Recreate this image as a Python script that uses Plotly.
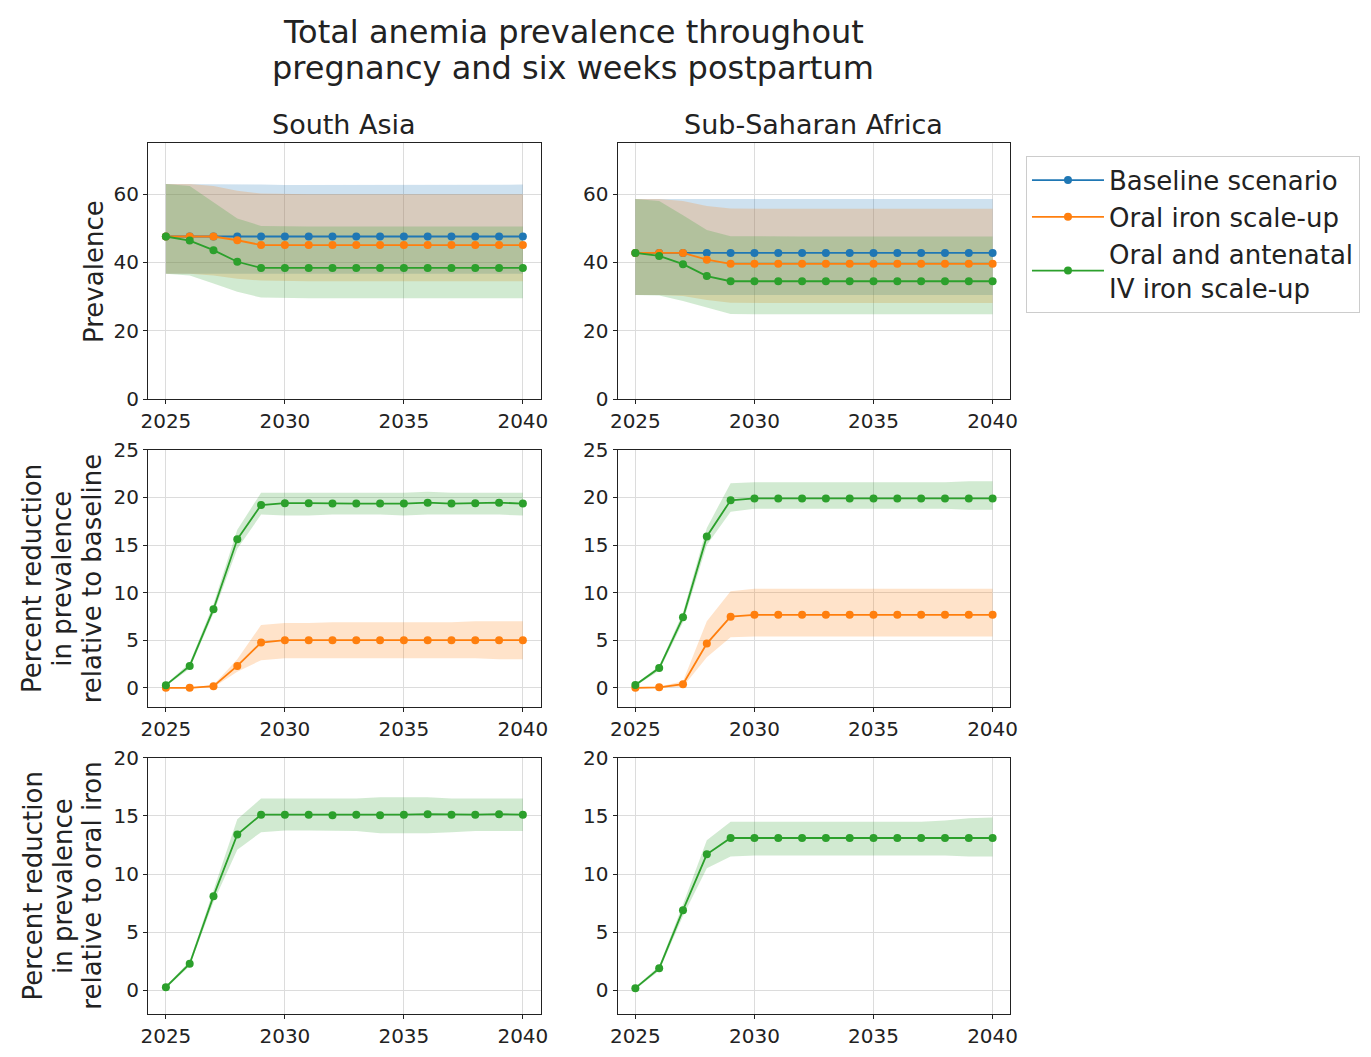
import plotly.graph_objects as go
from plotly.subplots import make_subplots

years = list(range(2025, 2041))

# ---- Row 1: prevalence (South Asia)
sa_base    = [47.6, 47.6, 47.6, 47.6, 47.6, 47.6, 47.6, 47.6, 47.6, 47.6, 47.6, 47.6, 47.6, 47.6, 47.6, 47.6]
sa_base_lo = [36.7, 36.7, 36.7, 36.7, 36.7, 36.7, 36.7, 36.7, 36.7, 36.7, 36.7, 36.7, 36.7, 36.7, 36.7, 36.7]
sa_base_hi = [63.0, 63.0, 63.0, 62.9, 62.8, 62.7, 62.7, 62.7, 62.7, 62.7, 62.7, 62.7, 62.7, 62.8, 62.8, 62.8]
sa_oral    = [47.6, 47.6, 47.6, 46.5, 45.1, 45.1, 45.1, 45.1, 45.1, 45.1, 45.1, 45.1, 45.1, 45.1, 45.1, 45.1]
sa_oral_lo = [36.7, 36.7, 36.2, 35.2, 34.7, 34.5, 34.5, 34.5, 34.5, 34.5, 34.5, 34.5, 34.5, 34.5, 34.5, 34.5]
sa_oral_hi = [63.0, 63.0, 62.4, 61.0, 60.2, 60.0, 60.0, 60.0, 60.0, 60.0, 60.0, 60.0, 60.0, 60.0, 60.0, 60.0]
sa_iv      = [47.6, 46.4, 43.6, 40.2, 38.4, 38.4, 38.4, 38.4, 38.4, 38.4, 38.4, 38.4, 38.4, 38.4, 38.4, 38.4]
sa_iv_lo   = [36.7, 36.2, 33.8, 31.4, 29.7, 29.5, 29.5, 29.5, 29.5, 29.5, 29.5, 29.5, 29.5, 29.5, 29.5, 29.5]
sa_iv_hi   = [63.0, 62.4, 57.6, 52.9, 50.7, 50.5, 50.5, 50.5, 50.5, 50.5, 50.5, 50.5, 50.5, 50.5, 50.5, 50.5]

# ---- Row 1: prevalence (Sub-Saharan Africa)
ssa_base    = [42.8, 42.8, 42.8, 42.8, 42.8, 42.8, 42.8, 42.8, 42.8, 42.8, 42.8, 42.8, 42.8, 42.8, 42.8, 42.8]
ssa_base_lo = [30.5, 30.5, 30.5, 30.5, 30.5, 30.5, 30.5, 30.5, 30.5, 30.5, 30.5, 30.5, 30.5, 30.5, 30.5, 30.5]
ssa_base_hi = [58.6, 58.6, 58.6, 58.6, 58.6, 58.6, 58.6, 58.6, 58.6, 58.6, 58.6, 58.6, 58.6, 58.6, 58.6, 58.6]
ssa_oral    = [42.8, 42.8, 42.8, 40.8, 39.6, 39.6, 39.6, 39.6, 39.6, 39.6, 39.6, 39.6, 39.6, 39.6, 39.6, 39.6]
ssa_oral_lo = [30.5, 30.5, 30.2, 29.0, 28.2, 28.1, 28.1, 28.1, 28.1, 28.1, 28.1, 28.1, 28.1, 28.1, 28.1, 28.1]
ssa_oral_hi = [58.6, 58.6, 58.0, 56.5, 55.8, 55.7, 55.7, 55.7, 55.7, 55.7, 55.7, 55.7, 55.7, 55.7, 55.7, 55.7]
ssa_iv      = [42.8, 41.9, 39.5, 36.0, 34.5, 34.5, 34.5, 34.5, 34.5, 34.5, 34.5, 34.5, 34.5, 34.5, 34.5, 34.5]
ssa_iv_lo   = [30.5, 30.3, 28.7, 26.7, 24.9, 24.8, 24.8, 24.8, 24.8, 24.8, 24.8, 24.8, 24.8, 24.8, 24.8, 24.8]
ssa_iv_hi   = [58.6, 58.0, 53.8, 49.5, 47.7, 47.6, 47.6, 47.6, 47.6, 47.6, 47.6, 47.6, 47.6, 47.6, 47.6, 47.6]

# ---- Row 2: percent reduction relative to baseline
sa_red_oral    = [0.0, 0.0, 0.17, 2.3, 4.75, 5.0, 5.0, 5.0, 5.0, 5.0, 5.0, 5.0, 5.0, 5.0, 5.0, 5.0]
sa_red_oral_lo = [0.0, 0.0, 0.05, 1.7, 2.9, 3.1, 3.1, 3.1, 3.1, 3.1, 3.1, 3.1, 3.1, 3.1, 3.0, 3.0]
sa_red_oral_hi = [0.0, 0.0, 0.3, 3.0, 6.6, 6.8, 6.8, 6.9, 6.9, 6.9, 6.9, 6.9, 6.9, 7.0, 7.0, 7.0]
sa_red_iv      = [0.28, 2.3, 8.26, 15.6, 19.2, 19.4, 19.4, 19.35, 19.35, 19.35, 19.35, 19.45, 19.35, 19.4, 19.45, 19.35]
sa_red_iv_lo   = [0.2, 2.0, 7.8, 14.6, 18.2, 18.1, 18.1, 18.2, 18.2, 18.2, 18.1, 18.2, 18.2, 18.2, 18.2, 18.1]
sa_red_iv_hi   = [0.4, 2.6, 8.8, 16.6, 20.5, 20.5, 20.5, 20.5, 20.5, 20.5, 20.5, 20.6, 20.5, 20.5, 20.5, 20.5]

ssa_red_oral    = [0.0, 0.05, 0.38, 4.65, 7.47, 7.67, 7.67, 7.67, 7.67, 7.67, 7.67, 7.67, 7.67, 7.67, 7.67, 7.67]
ssa_red_oral_lo = [0.0, 0.0, 0.1, 3.2, 5.3, 5.4, 5.4, 5.4, 5.4, 5.4, 5.4, 5.4, 5.4, 5.4, 5.4, 5.4]
ssa_red_oral_hi = [0.0, 0.1, 0.7, 7.0, 10.15, 10.4, 10.4, 10.4, 10.4, 10.4, 10.4, 10.4, 10.4, 10.4, 10.4, 10.4]
ssa_red_iv      = [0.3, 2.07, 7.4, 15.9, 19.7, 19.9, 19.9, 19.9, 19.9, 19.9, 19.9, 19.9, 19.9, 19.9, 19.9, 19.9]
ssa_red_iv_lo   = [0.2, 1.8, 6.9, 15.0, 18.5, 18.8, 18.8, 18.8, 18.8, 18.8, 18.8, 18.8, 18.8, 18.8, 18.7, 18.7]
ssa_red_iv_hi   = [0.4, 2.3, 7.9, 16.8, 21.5, 21.6, 21.6, 21.6, 21.6, 21.6, 21.6, 21.6, 21.6, 21.6, 21.7, 21.7]

# ---- Row 3: percent reduction relative to oral iron
sa_rel_iv    = [0.28, 2.3, 8.1, 13.4, 15.1, 15.1, 15.1, 15.05, 15.1, 15.05, 15.1, 15.15, 15.1, 15.1, 15.15, 15.1]
sa_rel_iv_lo = [0.2, 2.1, 7.6, 12.1, 13.6, 13.75, 13.75, 13.7, 13.7, 13.5, 13.5, 13.5, 13.6, 13.7, 13.7, 13.7]
sa_rel_iv_hi = [0.4, 2.5, 8.6, 14.7, 16.5, 16.5, 16.5, 16.5, 16.5, 16.6, 16.6, 16.6, 16.5, 16.5, 16.5, 16.5]

ssa_rel_iv    = [0.2, 1.9, 6.9, 11.7, 13.1, 13.1, 13.1, 13.1, 13.1, 13.1, 13.1, 13.1, 13.1, 13.1, 13.1, 13.1]
ssa_rel_iv_lo = [0.1, 1.7, 6.4, 10.5, 11.5, 11.6, 11.6, 11.6, 11.6, 11.6, 11.6, 11.6, 11.6, 11.6, 11.5, 11.5]
ssa_rel_iv_hi = [0.3, 2.1, 7.4, 12.9, 14.5, 14.5, 14.5, 14.5, 14.5, 14.5, 14.5, 14.5, 14.5, 14.6, 14.8, 14.85]

series_names = ["Baseline scenario", "Oral iron scale-up", "Oral and antenatal<br>IV iron scale-up"]
region_titles = ["South Asia", "Sub-Saharan Africa"]
title_lines = ["Total anemia prevalence throughout", "pregnancy and six weeks postpartum"]
row_ylabels = [["Prevalence"],
               ["Percent reduction", "in prevalence", "relative to baseline"],
               ["Percent reduction", "in prevalence", "relative to oral iron"]]

BLUE, ORANGE, GREEN = "#1f77b4", "#ff7f0e", "#2ca02c"
FILLS = {BLUE: "rgba(31,119,180,0.22)", ORANGE: "rgba(255,127,14,0.22)", GREEN: "rgba(44,160,44,0.22)"}

W, H = 1371, 1057
FONT = "DejaVu Sans"
TXT = "#222"

fig = make_subplots(rows=3, cols=2)

def add_band(row, col, lo, hi, color):
    fig.add_trace(go.Scatter(x=years, y=lo, mode="lines", line=dict(width=0, color=color),
                             showlegend=False, hoverinfo="skip"), row=row, col=col)
    fig.add_trace(go.Scatter(x=years, y=hi, mode="lines", line=dict(width=0, color=color),
                             fill="tonexty", fillcolor=FILLS[color],
                             showlegend=False, hoverinfo="skip"), row=row, col=col)

def add_line(row, col, mid, color, name, legend):
    fig.add_trace(go.Scatter(x=years, y=mid, mode="lines+markers", name=name,
                             line=dict(color=color, width=1.8),
                             marker=dict(color=color, size=8),
                             showlegend=legend), row=row, col=col)

panels = [
    (1, 1, [(sa_base, sa_base_lo, sa_base_hi, BLUE, 0),
            (sa_oral, sa_oral_lo, sa_oral_hi, ORANGE, 1),
            (sa_iv, sa_iv_lo, sa_iv_hi, GREEN, 2)]),
    (1, 2, [(ssa_base, ssa_base_lo, ssa_base_hi, BLUE, 0),
            (ssa_oral, ssa_oral_lo, ssa_oral_hi, ORANGE, 1),
            (ssa_iv, ssa_iv_lo, ssa_iv_hi, GREEN, 2)]),
    (2, 1, [(sa_red_oral, sa_red_oral_lo, sa_red_oral_hi, ORANGE, 1),
            (sa_red_iv, sa_red_iv_lo, sa_red_iv_hi, GREEN, 2)]),
    (2, 2, [(ssa_red_oral, ssa_red_oral_lo, ssa_red_oral_hi, ORANGE, 1),
            (ssa_red_iv, ssa_red_iv_lo, ssa_red_iv_hi, GREEN, 2)]),
    (3, 1, [(sa_rel_iv, sa_rel_iv_lo, sa_rel_iv_hi, GREEN, 2)]),
    (3, 2, [(ssa_rel_iv, ssa_rel_iv_lo, ssa_rel_iv_hi, GREEN, 2)]),
]

for row, col, ser in panels:
    for mid, lo, hi, color, k in ser:
        add_band(row, col, lo, hi, color)
    for mid, lo, hi, color, k in ser:
        add_line(row, col, mid, color, series_names[k], (row == 1 and col == 1))

# geometry (pixels)
col_px = [(141.7, 539.0), (616.7, 1014.3)]
row_px = [(134, 396), (448, 711), (763, 1025)]
yranges = [[0, 75], [-2, 25], [-2, 20]]
ydticks = [20, 5, 5]

axis_common = dict(showline=True, mirror=True, linecolor="#222", linewidth=1,
                   showgrid=True, gridcolor="#dcdcdc", gridwidth=1,
                   ticks="outside", ticklen=4, tickcolor="#222",
                   tickfont=dict(family=FONT, size=20, color=TXT), zeroline=False)

for r in range(3):
    for c in range(2):
        idx = r * 2 + c + 1
        xa = "xaxis" if idx == 1 else f"xaxis{idx}"
        ya = "yaxis" if idx == 1 else f"yaxis{idx}"
        fig.layout[xa].update(domain=[col_px[c][0] / W, col_px[c][1] / W],
                              range=[2024.25, 2040.75], tickvals=[2025, 2030, 2035, 2040],
                              **axis_common)
        fig.layout[ya].update(domain=[1 - row_px[r][1] / H, 1 - row_px[r][0] / H],
                              range=yranges[r], dtick=ydticks[r], tick0=0,
                              **axis_common)

annotations = []
title_y = [20, 57]
for i, line in enumerate(title_lines):
    annotations.append(dict(text=line, x=572 / W, y=1 - title_y[i] / H, xref="paper", yref="paper",
                            xanchor="center", yanchor="middle", showarrow=False,
                            font=dict(family=FONT, size=32, color=TXT)))
for c in range(2):
    annotations.append(dict(text=region_titles[c], x=(col_px[c][0] + col_px[c][1]) / 2 / W,
                            y=1 - 115 / H, xref="paper", yref="paper",
                            xanchor="center", yanchor="middle", showarrow=False,
                            font=dict(family=FONT, size=27, color=TXT)))
line_x = {1: [87], 3: [25, 55, 85]}
for r in range(3):
    lines = row_ylabels[r]
    xs = line_x[len(lines)]
    for j, line in enumerate(lines):
        annotations.append(dict(text=line, x=xs[j] / W,
                                y=1 - (row_px[r][0] + row_px[r][1]) / 2 / H,
                                xref="paper", yref="paper", textangle=-90,
                                xanchor="center", yanchor="middle", showarrow=False,
                                font=dict(family=FONT, size=26, color=TXT)))

fig.update_layout(
    width=W, height=H,
    margin=dict(l=0, r=0, t=0, b=0),
    paper_bgcolor="white", plot_bgcolor="white",
    font=dict(family=FONT, color=TXT),
    annotations=annotations,
    showlegend=True,
    legend=dict(x=1030 / W, y=1 - 147 / H, xanchor="left", yanchor="top",
                traceorder="normal",
                bordercolor="#cccccc", borderwidth=1, bgcolor="white",
                font=dict(family=FONT, size=26, color=TXT),
                itemwidth=72, tracegroupgap=0),
)

fig.write_html("out.html")
